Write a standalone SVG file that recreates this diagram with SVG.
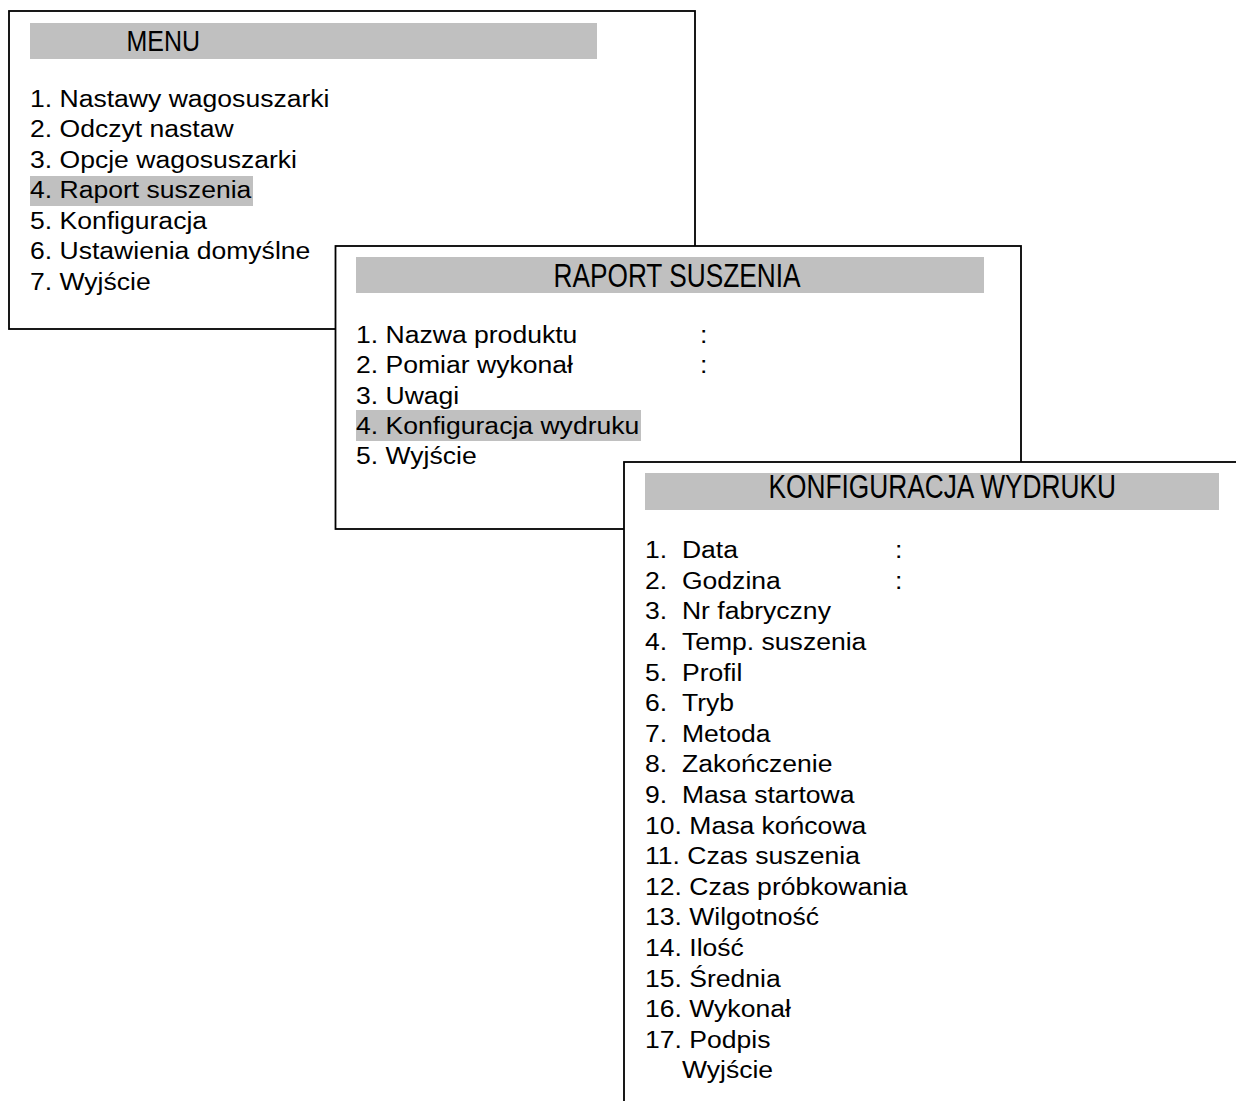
<svg xmlns="http://www.w3.org/2000/svg" width="1236" height="1101" viewBox="0 0 1236 1101">
<style>
.box{fill:#ffffff;stroke:#000000;stroke-width:1.8}
.bar{fill:#c0c0c0}
.hd{font-family:"Liberation Sans",Arial,sans-serif;fill:#000000}
.it{font-family:"Liberation Sans",Arial,sans-serif;font-size:23.5px;fill:#000000}
</style>
<rect width="1236" height="1101" fill="#ffffff"/>
<g id="menu">
<rect class="box" x="9" y="11" width="686" height="318"/>
<rect class="bar" x="30" y="23" width="567" height="36"/>
<text class="hd" x="126.5" y="50.7" font-size="29" textLength="73.5" lengthAdjust="spacingAndGlyphs">MENU</text>
<rect class="bar" x="30" y="176" width="223" height="30"/>
<g transform="translate(30,0) scale(1.13,1)">
<text class="it" x="0" y="106.7">1. Nastawy wagosuszarki</text>
<text class="it" x="0" y="137.2">2. Odczyt nastaw</text>
<text class="it" x="0" y="167.7">3. Opcje wagosuszarki</text>
<text class="it" x="0" y="198.2">4. Raport suszenia</text>
<text class="it" x="0" y="228.7">5. Konfiguracja</text>
<text class="it" x="0" y="259.2">6. Ustawienia domyślne</text>
<text class="it" x="0" y="289.7">7. Wyjście</text>
</g>
</g>
<g id="raport">
<rect class="box" x="335.5" y="246" width="685.5" height="283"/>
<rect class="bar" x="356" y="257" width="628" height="36"/>
<text class="hd" x="553.5" y="286.7" font-size="32.5" textLength="247" lengthAdjust="spacingAndGlyphs">RAPORT SUSZENIA</text>
<rect class="bar" x="356" y="410" width="285" height="31"/>
<g transform="translate(356,0) scale(1.13,1)">
<text class="it" x="0" y="342.8">1. Nazwa produktu</text>
<text class="it" x="304.4" y="342.8">:</text>
<text class="it" x="0" y="373.3">2. Pomiar wykonał</text>
<text class="it" x="304.4" y="373.3">:</text>
<text class="it" x="0" y="403.6">3. Uwagi</text>
<text class="it" x="0" y="433.8">4. Konfiguracja wydruku</text>
<text class="it" x="0" y="464.2">5. Wyjście</text>
</g>
</g>
<g id="konfiguracja">
<rect class="box" x="624" y="462" width="700" height="700"/>
<rect class="bar" x="645" y="473" width="574" height="37"/>
<text class="hd" x="768.5" y="498.3" font-size="32.5" textLength="347.5" lengthAdjust="spacingAndGlyphs">KONFIGURACJA WYDRUKU</text>
<g transform="translate(645,0) scale(1.13,1)">
<text class="it" x="0" y="558.3">1.</text><text class="it" x="32.7" y="558.3">Data</text><text class="it" x="221.2" y="558.3">:</text>
<text class="it" x="0" y="588.9">2.</text><text class="it" x="32.7" y="588.9">Godzina</text><text class="it" x="221.2" y="588.9">:</text>
<text class="it" x="0" y="619.5">3.</text><text class="it" x="32.7" y="619.5">Nr fabryczny</text>
<text class="it" x="0" y="650.1">4.</text><text class="it" x="32.7" y="650.1">Temp. suszenia</text>
<text class="it" x="0" y="680.7">5.</text><text class="it" x="32.7" y="680.7">Profil</text>
<text class="it" x="0" y="711.3">6.</text><text class="it" x="32.7" y="711.3">Tryb</text>
<text class="it" x="0" y="741.9">7.</text><text class="it" x="32.7" y="741.9">Metoda</text>
<text class="it" x="0" y="772.5">8.</text><text class="it" x="32.7" y="772.5">Zakończenie</text>
<text class="it" x="0" y="803.1">9.</text><text class="it" x="32.7" y="803.1">Masa startowa</text>
<text class="it" x="0" y="833.7">10. Masa końcowa</text>
<text class="it" x="0" y="864.3">11. Czas suszenia</text>
<text class="it" x="0" y="894.9">12. Czas próbkowania</text>
<text class="it" x="0" y="925.5">13. Wilgotność</text>
<text class="it" x="0" y="956.1">14. Ilość</text>
<text class="it" x="0" y="986.7">15. Średnia</text>
<text class="it" x="0" y="1017.3">16. Wykonał</text>
<text class="it" x="0" y="1047.9">17. Podpis</text>
<text class="it" x="32.7" y="1078.5">Wyjście</text>
</g>
</g>
<g id="connectors"></g>
</svg>
